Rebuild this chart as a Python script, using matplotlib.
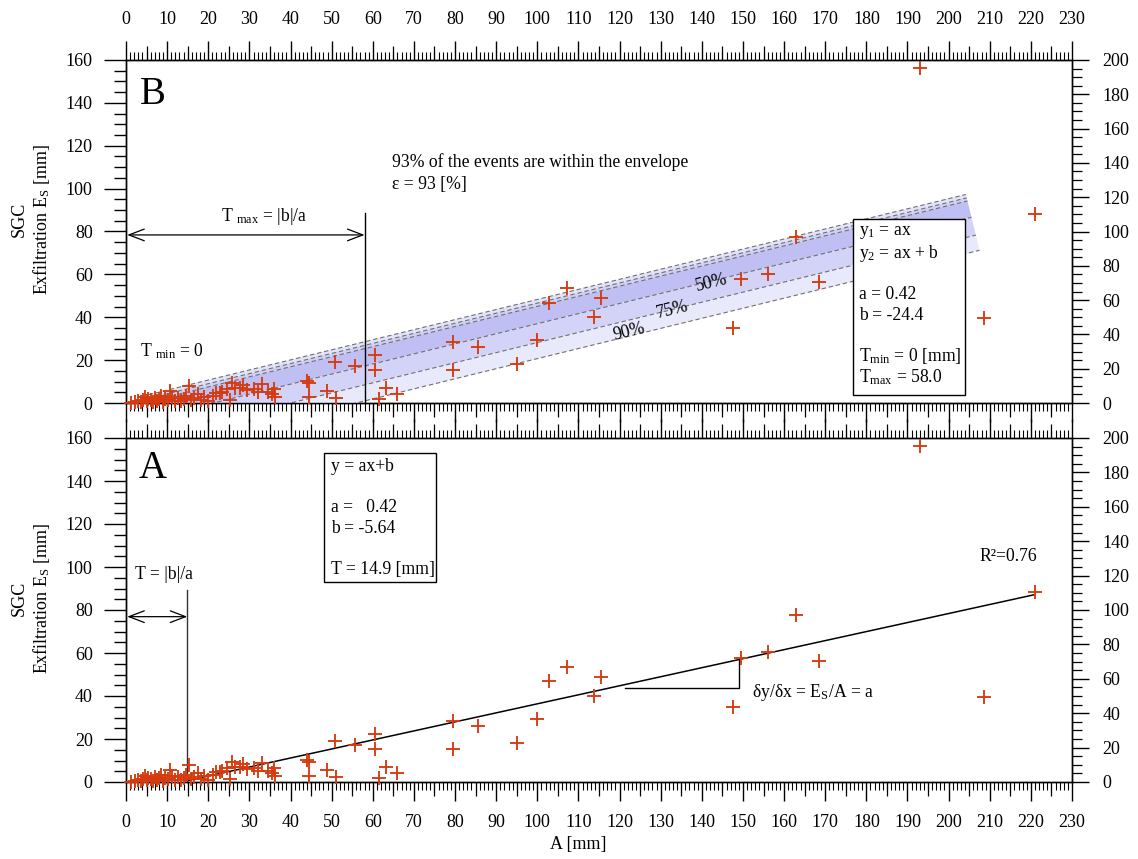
import matplotlib
matplotlib.use("Agg")
import matplotlib.pyplot as plt
import numpy as np
from matplotlib.patches import Polygon, Rectangle
from matplotlib.ticker import MultipleLocator

plt.rcParams["font.family"] = ["Liberation Serif", "DejaVu Serif"]
plt.rcParams["mathtext.fontset"] = "custom"
plt.rcParams["mathtext.rm"] = "Liberation Serif"
plt.rcParams["mathtext.it"] = "Liberation Serif:italic"
plt.rcParams["mathtext.bf"] = "Liberation Serif:bold"

# ---- event data: rainfall depth A [mm] and SGC exfiltration E_S [mm] ----
rain_A = [1.2, 2.2, 3.0, 3.6, 4.2, 4.6, 5.0, 5.4, 6.0, 6.5, 7.0, 7.6, 8.1, 8.6,
          9.0, 9.5, 10.2, 10.6, 11.2, 12.0, 12.6, 13.3, 14.0, 14.6, 15.2, 15.8,
          16.6, 17.6, 18.2, 19.0, 19.9, 21.2, 22.0, 22.9, 23.4, 24.5, 25.3, 25.8,
          26.5, 27.7, 28.4, 29.5, 31.0, 32.2, 33.0, 34.6, 35.5, 36.1, 36.3,
          44.1, 44.6, 44.6, 48.9, 50.7, 51.1, 55.6, 60.5, 60.5, 61.6, 63.2, 66.0,
          79.6, 79.6, 85.7, 95.1, 100.0, 102.8, 107.2, 113.7, 115.4,
          147.5, 149.5, 156.0, 163.0, 168.5, 193.0, 208.5, 221.0]
exfil_E = [0.2, 0.5, 1.0, 0.4, 1.6, 2.8, 0.8, 2.0, 1.2, 0.4, 2.4, 1.0, 1.8, 3.2,
           0.5, 2.0, 1.3, 5.8, 2.8, 1.0, 2.4, 0.7, 1.8, 3.4, 8.0, 1.2,
           2.2, 4.0, 1.6, 2.8, 1.0, 3.4, 4.5, 4.8, 5.3, 6.4, 1.2, 9.4,
           7.0, 7.1, 8.2, 6.2, 6.4, 5.2, 8.7, 5.1, 4.2, 6.4, 2.9,
           10.4, 9.4, 2.8, 5.7, 19.3, 2.4, 17.2, 22.4, 15.3, 1.8, 7.0, 4.0,
           28.3, 15.3, 26.0, 18.0, 29.2, 46.8, 53.5, 40.0, 48.9,
           34.8, 57.8, 60.3, 77.5, 56.5, 156.5, 39.5, 88.3]

# axis ticks
x_ticks = list(range(0, 231, 10))
x_ticks_mid = list(range(5, 231, 10))
y_ticks_left = list(range(0, 161, 20))
y_ticks_right = list(range(0, 201, 20))

# linear fit (panel A) and envelope (panel B) parameters
fit_a = 0.42
fit_b = -5.64
fit_T = 14.9
fit_x_end = 220.7
fit_r2 = 0.76
env_b = -24.4
env_Tmax = 58.0

# envelope band drawn in panel B
env_slope = 0.47
env_offsets = [1.3, -0.4, -1.9, -10.0, -18.8, -26.3]
env_colors = ["#e2e2fb", "#d0d0f7", "#bfbff3", "#d3d3f8", "#e9e9fc"]
env_x_start = 5.5
env_x_end = 204.2
band_names = ["50%", "75%", "90%"]
band_label_x = [142.4, 132.9, 122.2]
band_label_y = [56.0, 43.4, 33.1]

W, H = 1138, 859
fig = plt.figure(figsize=(W / 100, H / 100), dpi=100)
ax_top = fig.add_axes([126 / W, 1 - 403 / H, 946 / W, 343 / H])
ax_bot = fig.add_axes([126 / W, 1 - 782 / H, 946 / W, 344 / H])

MARK = "#d63b10"
FS = 12.7


def style_axes(ax, labels_on_top):
    ax.set_xlim(0, 230)
    ax.set_ylim(0, 160)
    for s in ax.spines.values():
        s.set_linewidth(1.0)
    ax.set_xticks(x_ticks, [str(v) for v in x_ticks])
    ax.xaxis.set_minor_locator(MultipleLocator(1))
    ax.set_yticks(y_ticks_left, [str(v) for v in y_ticks_left])
    ax.yaxis.set_minor_locator(MultipleLocator(5))
    ax.tick_params(axis="x", which="major", direction="out", length=14, width=1,
                   top=True, bottom=True, labeltop=labels_on_top,
                   labelbottom=not labels_on_top, labelsize=13, pad=9)
    ax.tick_params(axis="x", which="minor", direction="out", length=6, width=0.8,
                   top=True, bottom=True)
    ax.tick_params(axis="y", which="major", direction="out", length=16, width=1,
                   left=True, right=False, labelsize=13, pad=8)
    ax.tick_params(axis="y", which="minor", direction="out", length=9, width=1,
                   left=True, right=False)
    # mid-decade ticks on both x edges
    for side in ("top", "bottom"):
        sec = ax.secondary_xaxis(side)
        sec.set_xticks(x_ticks_mid)
        sec.tick_params(axis="x", which="major", direction="out", length=10, width=0.9,
                        labeltop=False, labelbottom=False)
        sec.spines[side].set_visible(False)
    tw = ax.twinx()
    tw.set_ylim(0, 200)
    tw.set_yticks(y_ticks_right, [str(v) for v in y_ticks_right])
    tw.yaxis.set_minor_locator(MultipleLocator(5))
    tw.tick_params(axis="y", which="major", direction="out", length=12, width=1,
                   labelsize=13, pad=10)
    tw.tick_params(axis="y", which="minor", direction="out", length=7, width=0.9)
    for s in tw.spines.values():
        s.set_linewidth(1.0)
    ax.set_ylabel("SGC\nExfiltration E$_{\\mathrm{S}}$ [mm]", fontsize=13,
                  va="center", ha="center", multialignment="center")
    ax.yaxis.set_label_coords(-0.1005, 0.535)
    ax.set_zorder(tw.get_zorder() + 1)
    ax.patch.set_visible(False)


style_axes(ax_top, True)
style_axes(ax_bot, False)


def text_box(ax, x0, x1, y0, y1, lines, tx, ty, step):
    ax.add_patch(Rectangle((x0, y0), x1 - x0, y1 - y0, facecolor="white",
                           edgecolor="black", lw=1.0, zorder=4))
    for i, ln in enumerate(lines):
        if ln:
            ax.text(tx, ty - i * step, ln, fontsize=FS, ha="left", va="center", zorder=5)


# ---------------- panel B: envelope ----------------
ax = ax_top
pos = ax.get_position()
sx = pos.width * W / 230.0
sy = pos.height * H / 160.0
c0 = env_offsets[0]
denom = sx / sy + env_slope ** 2 * sy / sx


def env_ends(c):
    t = (c0 - c) / denom
    dx = env_slope * sy / sx * t
    xa = env_x_start + dx
    xb = env_x_end + dx
    return (xa, env_slope * xa + c), (xb, env_slope * xb + c)


ends = [env_ends(c) for c in env_offsets]
for i, col in enumerate(env_colors):
    (p0, p1), (q0, q1) = ends[i], ends[i + 1]
    ax.add_patch(Polygon([p0, p1, q1, q0], closed=True, facecolor=col,
                         edgecolor="none", zorder=1))
for (p0, p1) in ends:
    ax.plot([p0[0], p1[0]], [p0[1], p1[1]], ls=(0, (4, 2.5)), color="#707070",
            lw=0.8, zorder=2)

ang = np.degrees(np.arctan(env_slope * sy / sx))
for name, bx, by in zip(band_names, band_label_x, band_label_y):
    ax.text(bx, by, name, fontsize=FS, rotation=ang, ha="center", va="center",
            rotation_mode="anchor", zorder=3)

ax.plot([env_Tmax, env_Tmax], [0, 88.6], color="black", lw=1.0, zorder=3)
ax.annotate("", xy=(0.3, 78.4), xytext=(env_Tmax, 78.4),
            arrowprops=dict(arrowstyle="<->,head_length=1.1,head_width=0.42",
                            lw=0.9, color="black", shrinkA=0, shrinkB=0,
                            mutation_scale=10), zorder=3)
ax.text(33.6, 87.2, "T $_{\\mathrm{max}}$ = |b|/a", fontsize=FS, ha="center", va="center")
ax.text(3.4, 24.0, "T $_{\\mathrm{min}}$ = 0", fontsize=FS, ha="left", va="center")
ax.text(64.7, 112.4, "93% of the events are within the envelope", fontsize=FS,
        ha="left", va="center")
ax.text(64.7, 102.1, "ε = 93 [%]", fontsize=FS, ha="left", va="center")
ax.text(6.6, 144.0, "B", fontsize=28, ha="center", va="center")

text_box(ax, 176.7, 203.9, 3.7, 85.8,
         ["y$_1$ = ax", "y$_2$ = ax + b", "", f"a = {fit_a:.2f}", f"b = {env_b}", "",
          "T$_{\\mathrm{min}}$ = 0 [mm]", f"T$_{{\\mathrm{{max}}}}$ = {env_Tmax:.1f}"],
         178.3, 79.4, 9.6)

ax.plot(rain_A, exfil_E, ls="none", marker="+", ms=10, mew=1.35, color=MARK,
        clip_on=False, zorder=6)

# ---------------- panel A: linear fit ----------------
ax = ax_bot
xs = np.array([fit_T, fit_x_end])
ax.plot(xs, fit_a * xs + fit_b, color="black", lw=1.1, zorder=3)
ax.plot([fit_T, fit_T], [0, 89.3], color="#333333", lw=1.0, zorder=3)
ax.annotate("", xy=(0.3, 76.9), xytext=(fit_T, 76.9),
            arrowprops=dict(arrowstyle="<->,head_length=1.1,head_width=0.42",
                            lw=0.9, color="black", shrinkA=0, shrinkB=0,
                            mutation_scale=10), zorder=3)
ax.text(9.2, 96.3, "T = |b|/a", fontsize=FS, ha="center", va="center")

tri_x0, tri_x1, tri_y = 121.4, 149.0, 43.6
ax.plot([tri_x0, tri_x1, tri_x1], [tri_y, tri_y, fit_a * tri_x1 + fit_b],
        color="black", lw=1.0, zorder=3)
ax.text(152.3, 41.4, "δy/δx = E$_{\\mathrm{S}}$/A = a", fontsize=FS, ha="left", va="center")
ax.text(207.4, 105.1, f"R²={fit_r2:.2f}", fontsize=FS, ha="left", va="center")
ax.text(6.4, 145.8, "A", fontsize=28, ha="center", va="center")

text_box(ax, 48.2, 75.4, 93.0, 153.0,
         ["y = ax+b", "", f"a =   {fit_a:.2f}", f"b = {fit_b:.2f}", "", f"T = {fit_T} [mm]"],
         49.8, 146.7, 9.58)

ax.plot(rain_A, exfil_E, ls="none", marker="+", ms=10, mew=1.35, color=MARK,
        clip_on=False, zorder=6)

fig.text(578 / W, 1 - 845 / H, "A [mm]", fontsize=13, ha="center", va="center")

fig.savefig("out.png", dpi=100)
